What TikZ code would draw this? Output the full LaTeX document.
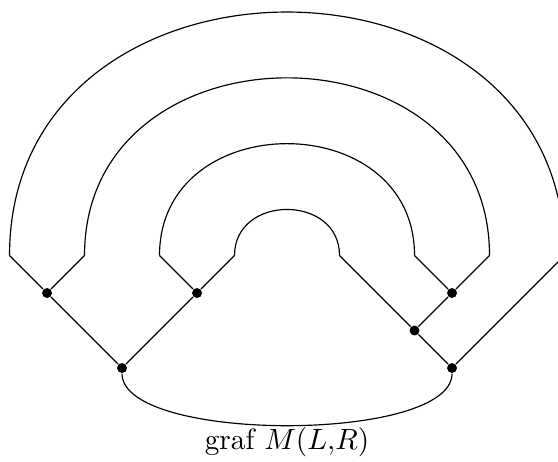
\documentclass[tikz,border=0pt]{standalone}
\usepackage{amsmath}
\usepackage{tikz}
\usetikzlibrary{positioning,calc}

\begin{document}
\begin{tikzpicture}[
  x=0.9cm, y=0.9cm,
  vtx/.style={circle, fill=black, inner sep=0pt, minimum size=3.4pt},
  hump/.style={out=90, in=90, looseness=1.5},
]
\clip (-1.627,-1.24) rectangle (5.813,4.907);
% left tree
\node[vtx] (l0) at (0,0) {};
\node[vtx] (l1) at (-1,1) {};
\node[vtx] (l2) at (1,1) {};
% right tree
\node[vtx] (r0) at (4.4,0) {};
\node[vtx] (r1) at (3.9,0.5) {};
\node[vtx] (r2) at (4.4,1) {};
% free ends of the arcs
\coordinate (a1) at (-1.5,1.5);
\coordinate (a2) at (-0.5,1.5);
\coordinate (a3) at (0.5,1.5);
\coordinate (a4) at (1.5,1.5);
\coordinate (b4) at (2.9,1.5);
\coordinate (b3) at (3.9,1.5);
\coordinate (b2) at (4.9,1.5);
\coordinate (b1) at (5.9,1.5);

\draw (l0) -- (l1);
\draw (l0) -- (l2);
\draw (l1) -- (a1);
\draw (l1) -- (a2);
\draw (l2) -- (a3);
\draw (l2) -- (a4);
\draw (r0) -- (r1);
\draw (r0) -- (b1);
\draw (r1) -- (b4);
\draw (r1) -- (r2);
\draw (r2) -- (b3);
\draw (r2) -- (b2);
\foreach \i in {1,...,4}
  \draw (a\i) to[hump] (b\i);
\draw (l0) to[out=-90, in=-90, looseness=0.54] (r0);

\node[anchor=base] (cap) at (2.2,-1.08) {graf $M(L{,}R)$};
\end{tikzpicture}
\end{document}
